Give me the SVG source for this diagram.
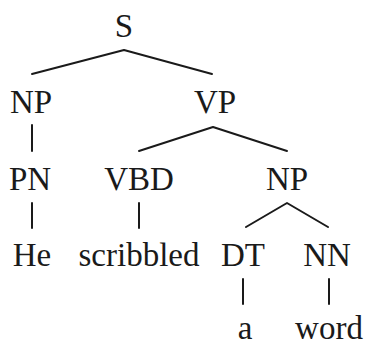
<svg xmlns="http://www.w3.org/2000/svg" width="366" height="346" viewBox="0 0 366 346">
  <style>
    .lbl { font-family: 'Liberation Serif', 'DejaVu Serif', serif; font-size: 33px; fill: #1a1a1a; text-anchor: middle; }
    .edge { stroke: #1a1a1a; stroke-width: 2; fill: none; stroke-linecap: round; stroke-linejoin: round; }
  </style>
  <rect width="366" height="346" fill="#ffffff"/>

  <!-- branches of the parse tree -->
  <g id="connectors">
    <polyline class="edge" points="32,74 124,50 212,74"/>
    <line class="edge" x1="32" y1="125" x2="32" y2="151"/>
    <polyline class="edge" points="139,151 213,127 287,151"/>
    <line class="edge" x1="32" y1="203" x2="32" y2="228"/>
    <line class="edge" x1="139" y1="203" x2="139" y2="228"/>
    <polyline class="edge" points="246,227 287,203 328,227"/>
    <line class="edge" x1="243" y1="279" x2="243" y2="304"/>
    <line class="edge" x1="329" y1="279" x2="329" y2="304"/>
  </g>

  <!-- constituents -->
  <g id="s"><text class="lbl" x="124" y="37" font-family="Liberation Serif, serif">S</text></g>
  <g id="np-subject"><text class="lbl" x="31" y="113" font-family="Liberation Serif, serif">NP</text></g>
  <g id="vp"><text class="lbl" x="215" y="113" font-family="Liberation Serif, serif">VP</text></g>
  <g id="pn"><text class="lbl" x="30" y="190" font-family="Liberation Serif, serif">PN</text></g>
  <g id="vbd"><text class="lbl" x="139" y="190" font-family="Liberation Serif, serif">VBD</text></g>
  <g id="np-object"><text class="lbl" x="287" y="190" font-family="Liberation Serif, serif">NP</text></g>
  <g id="he"><text class="lbl" x="32" y="266" font-family="Liberation Serif, serif">He</text></g>
  <g id="scribbled"><text class="lbl" x="139" y="266" font-family="Liberation Serif, serif">scribbled</text></g>
  <g id="dt"><text class="lbl" x="243" y="266" font-family="Liberation Serif, serif">DT</text></g>
  <g id="nn"><text class="lbl" x="327" y="266" font-family="Liberation Serif, serif">NN</text></g>
  <g id="a"><text class="lbl" x="245" y="339" font-family="Liberation Serif, serif">a</text></g>
  <g id="word"><text class="lbl" x="329" y="339" font-family="Liberation Serif, serif">word</text></g>
</svg>
